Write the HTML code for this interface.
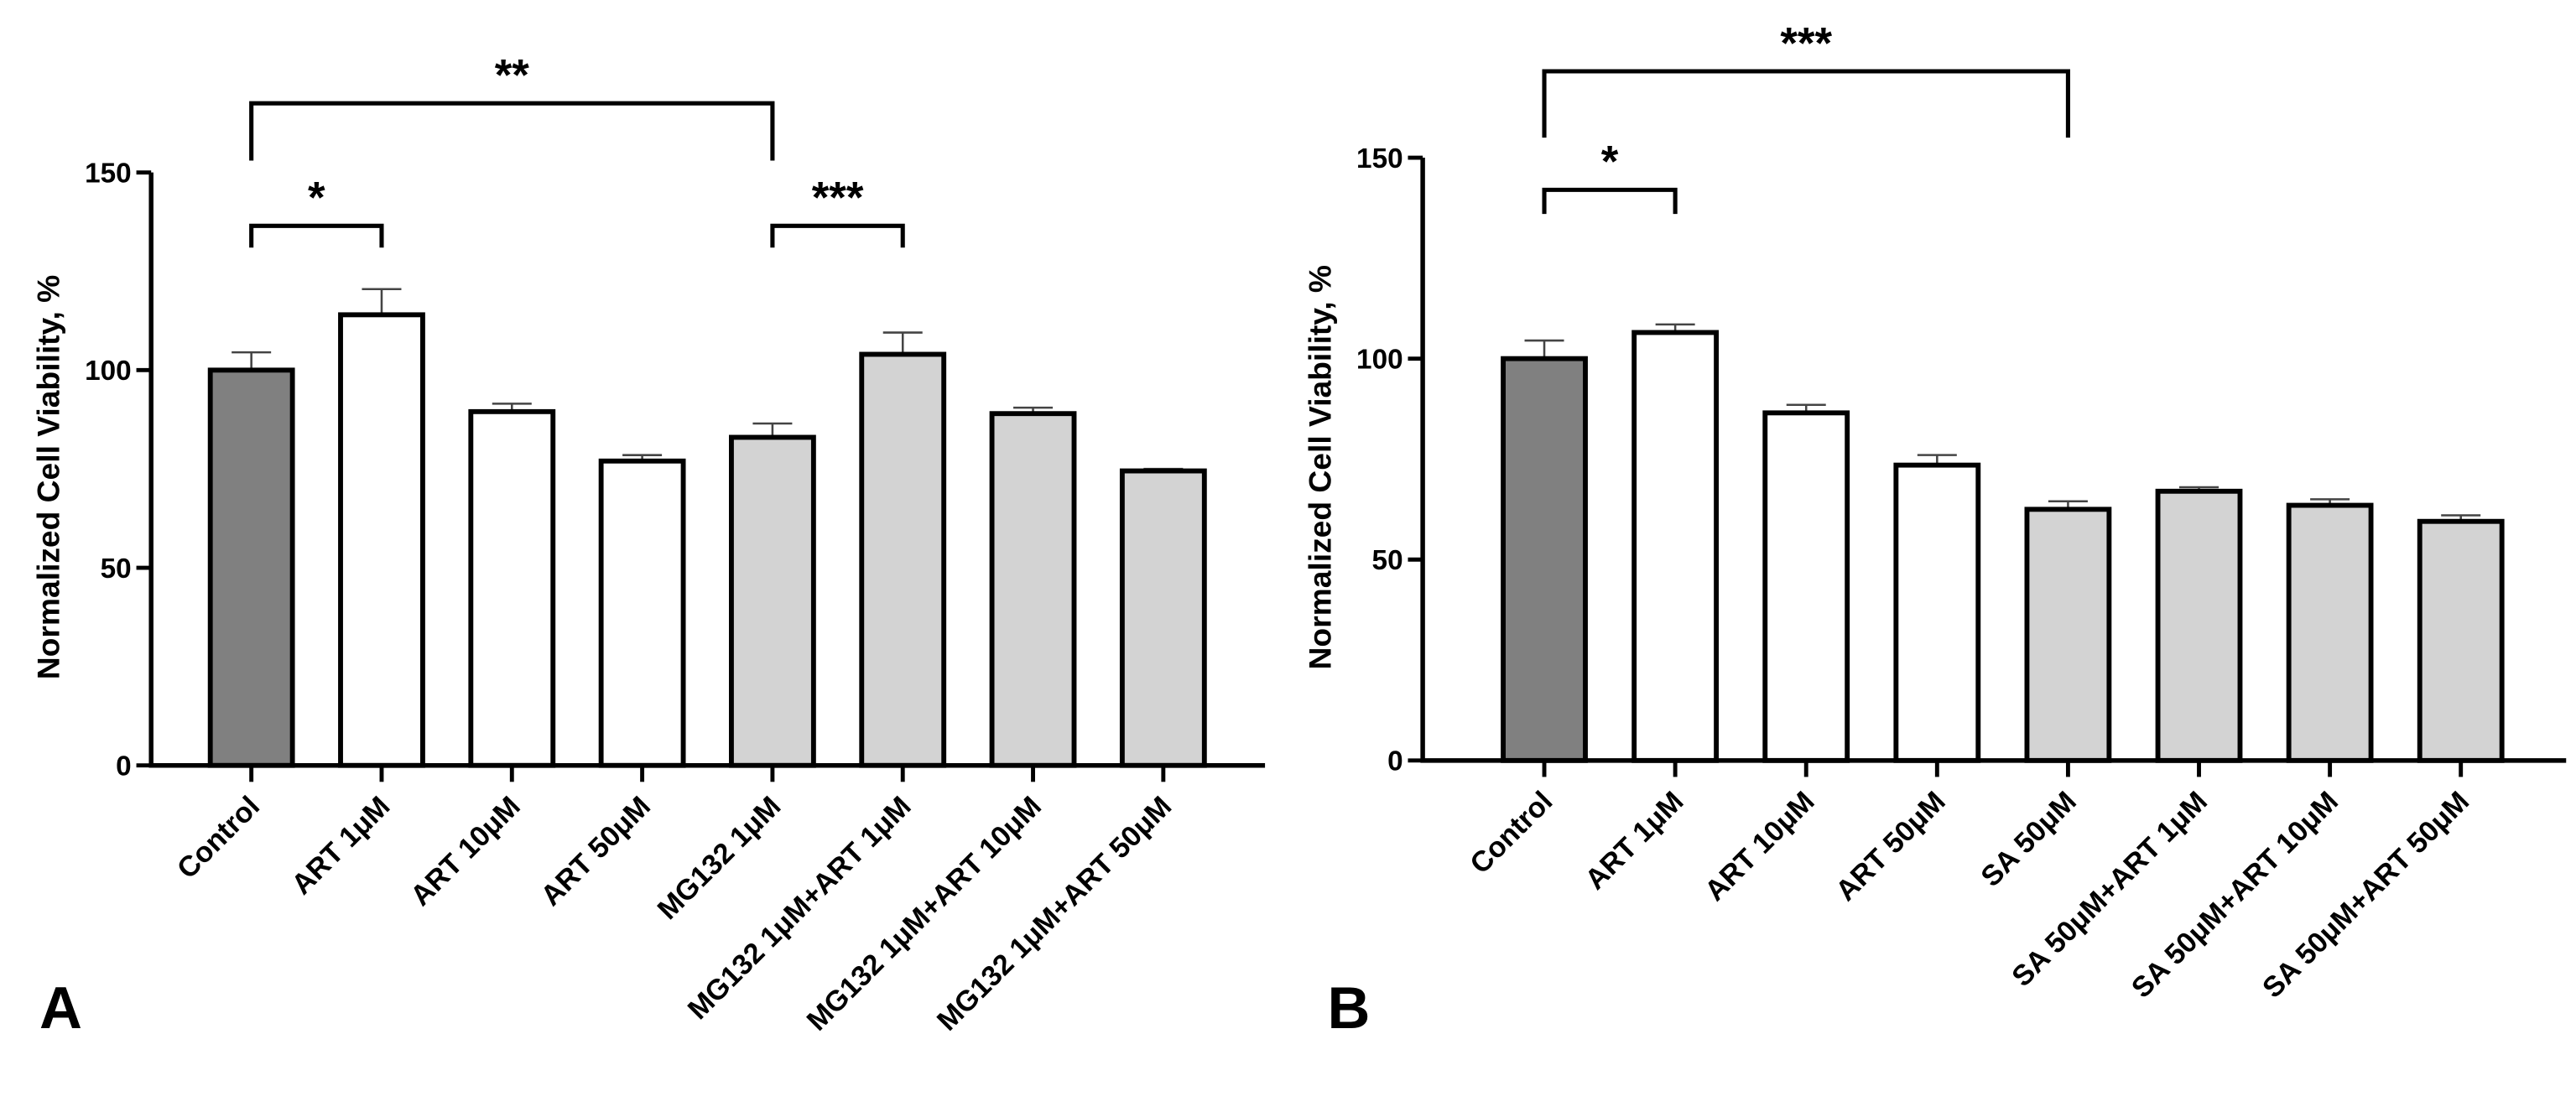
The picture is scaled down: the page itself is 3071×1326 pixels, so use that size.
<!DOCTYPE html>
<html><head><meta charset="utf-8"><style>
html,body{margin:0;padding:0;background:#fff}
svg{display:block}
text{font-family:"Liberation Sans",Arial,sans-serif;font-weight:bold;fill:#000}
</style></head><body>
<svg id="fig" width="3071" height="1326" viewBox="0 0 1568 677" preserveAspectRatio="none" xmlns="http://www.w3.org/2000/svg"></svg>
<script>
const catsA = ["Control","ART 1μM","ART 10μM","ART 50μM","MG132 1μM","MG132 1μM+ART 1μM","MG132 1μM+ART 10μM","MG132 1μM+ART 50μM"];
const valsA = [100,114,89.5,77,83,104,89,74.5];
const errA = [4.5,6.5,2,1.5,3.5,5.5,1.5,0.5];
const catsB = ["Control","ART 1μM","ART 10μM","ART 50μM","SA 50μM","SA 50μM+ART 1μM","SA 50μM+ART 10μM","SA 50μM+ART 50μM"];
const valsB = [100,106.5,86.5,73.5,62.5,67,63.5,59.5];
const errB = [4.5,2,2,2.5,2,1,1.5,1.5];
const yTicks = [0,50,100,150];
const sigA = [{a:0,b:4,level:167.5,leg:153,label:"**"},{a:0,b:1,level:136.5,leg:131,label:"*"},{a:4,b:5,level:136.5,leg:131,label:"***"}];
const sigB = [{a:0,b:4,level:171.5,leg:155,label:"***"},{a:0,b:1,level:142,leg:136,label:"*"}];
const fillsA = ["#808080","#fff","#fff","#fff","#d3d3d3","#d3d3d3","#d3d3d3","#d3d3d3"];
const fillsB = fillsA;
const NS="http://www.w3.org/2000/svg";
const svg=document.getElementById('fig');
function mk(tag,attrs,parent){const e=document.createElementNS(NS,tag);for(const k in attrs)e.setAttribute(k,attrs[k]);(parent||svg).appendChild(e);return e;}
function panel(p){
  const g=mk('g',{});
  
  
  const y=v=>p.y0-(p.y0-p.y150)*v/150;
  const x=i=>p.first+i*p.step;
  const bw=50;
  p.vals.forEach((v,i)=>{
    const e=mk('line',{x1:x(i),x2:x(i),y1:y(v),y2:y(v+p.err[i]),stroke:'#444','stroke-width':1.3},g);
    
    
    const c=mk('line',{x1:x(i)-12,x2:x(i)+12,y1:y(v+p.err[i]),y2:y(v+p.err[i]),stroke:'#444','stroke-width':1.3},g);
    
    
    const r=mk('rect',{x:x(i)-bw/2,y:y(v),width:bw,height:p.y0-y(v),fill:p.fills[i],stroke:'#000','stroke-width':3},g);
    
    
    const t=mk('line',{x1:x(i),x2:x(i),y1:p.y0,y2:p.y0+10,stroke:'#000','stroke-width':2.5},g);
    
    
    const lb=mk('text',{x:x(i)+6,y:p.y0+26,'font-size':17.5,'text-anchor':'end',transform:`rotate(-45 ${x(i)+6} ${p.y0+26})`},g);
    lb.textContent=p.cats[i];
    
    
  });
  const ax=mk('path',{d:`M${p.x1} ${y(150)} V${p.y0} H${p.x2}`,fill:'none',stroke:'#000','stroke-width':2.8},g);
  
  
  yTicks.forEach(v=>{
    const t=mk('line',{x1:p.x1-9,x2:p.x1,y1:y(v),y2:y(v),stroke:'#000','stroke-width':2.5},g);
    
    
    const l=mk('text',{x:p.x1-12,y:y(v)+6,'font-size':17,'text-anchor':'end'},g);
    l.textContent=v;
    
    
  });
  const yl=mk('text',{x:0,y:0,'font-size':19,'text-anchor':'middle',transform:`translate(${p.x1-56} ${(y(0)+y(150))/2+5}) rotate(-90)`},g);
  yl.textContent="Normalized Cell Viability, %";
  
  
  p.sig.forEach(s=>{
    const ya=y(s.level), leg=y(s.leg);
    const b=mk('path',{d:`M${x(s.a)} ${leg} V${ya} H${x(s.b)} V${leg}`,fill:'none',stroke:'#000','stroke-width':2.6},g);
    
    
    const st=mk('text',{x:(x(s.a)+x(s.b))/2,y:ya-8,'font-size':27,'text-anchor':'middle'},g);
    st.textContent=s.label;
    
    
  });
  const pl=mk('text',{x:p.lx,y:626,'font-size':36},g);
  pl.textContent=p.letter;
  
  
}
panel({name:'panel-a',cats:catsA,vals:valsA,err:errA,fills:fillsA,sig:sigA,x1:92,x2:770,first:153,step:79.3,y0:466,y150:105,lx:24,letter:'A'});
panel({name:'panel-b',cats:catsB,vals:valsB,err:errB,fills:fillsB,sig:sigB,x1:866,x2:1562,first:940,step:79.7,y0:463,y150:96,lx:808,letter:'B'});
</script>
</body></html>
